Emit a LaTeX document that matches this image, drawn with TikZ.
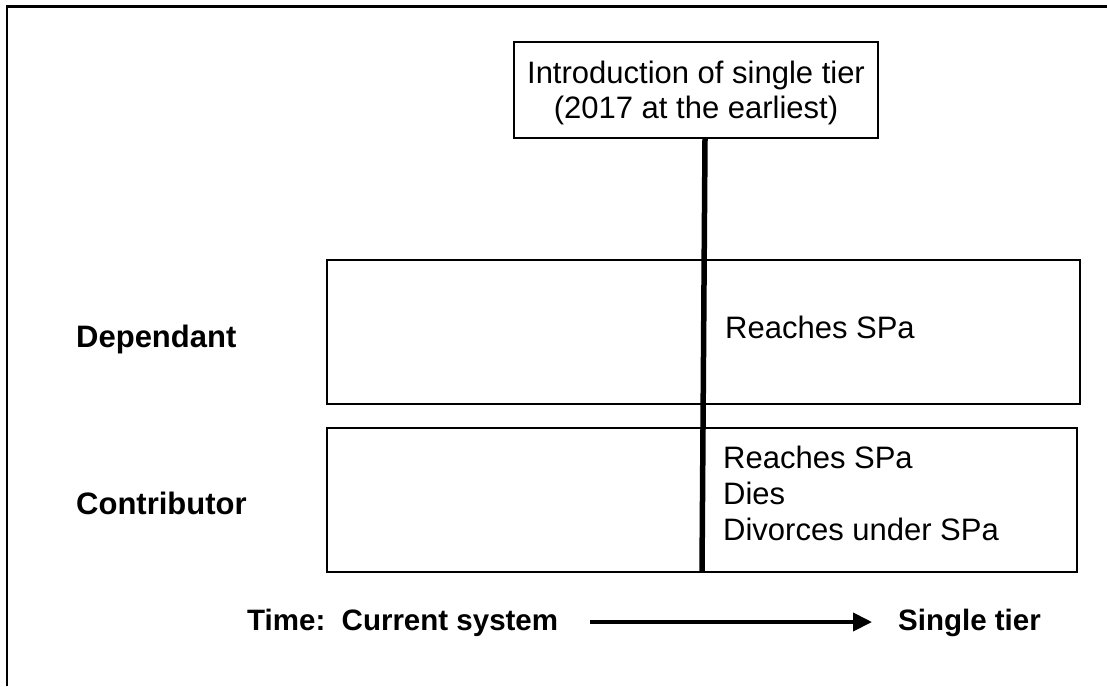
\documentclass[tikz,border=0pt]{standalone}
\usepackage{fontspec}
\setmainfont{Liberation Sans}
\usetikzlibrary{arrows.meta}
\tikzset{
  boxstyle/.style={draw=black, line width=1.8pt, inner sep=0pt},
  txt/.style={inner sep=0pt, font=\fontsize{31}{36}\selectfont},
  lbl/.style={inner sep=0pt, font=\fontsize{31}{36}\selectfont\bfseries},
  timelbl/.style={inner sep=0pt, font=\fontsize{29.5}{34}\selectfont\bfseries},
}
\begin{document}
\begin{tikzpicture}[x=1pt,y=-1pt]
\useasboundingbox (0,0) rectangle (1107,686);
% frame (left and top only)
\draw[line width=2.2pt] (7,686) -- (7,6.5) -- (1107,6.5);
% top box
\node[boxstyle, minimum width=364pt, minimum height=96pt] (intro) at (696,90) {};
\node[txt, anchor=base] (intro1) at (696,83) {Introduction of single tier};
\node[txt, anchor=base] (intro2) at (696,118) {(2017 at the earliest)};
% row boxes
\node[boxstyle, minimum width=753pt, minimum height=144pt] (dep) at (703.5,332) {};
\node[boxstyle, minimum width=750pt, minimum height=144pt] (con) at (702,500) {};
% vertical divider
\coordinate (v1) at (705,139);
\coordinate (v2) at (702,572);
\draw[line width=5.5pt] (v1) -- (v2);
% row labels
\node[lbl, anchor=base west] (deplbl) at (76,347) {Dependant};
\node[lbl, anchor=base west] (conlbl) at (76,514) {Contributor};
% box texts
\node[txt, anchor=base west] (dept) at (725,338) {Reaches SPa};
\node[txt, anchor=base west] (con1) at (723,468) {Reaches SPa};
\node[txt, anchor=base west] (con2) at (723,504) {Dies};
\node[txt, anchor=base west] (con3) at (723,540) {Divorces under SPa};
% time axis
\node[timelbl, anchor=base west] (time) at (247,630) {Time:\ \ Current system};
\node[timelbl, anchor=base west] (single) at (898,630) {Single tier};
\coordinate (a1) at (590,622);
\coordinate (a2) at (872,622);
\draw[line width=4pt, -{Triangle[length=19pt,width=18pt]}] (a1) -- (a2);
\end{tikzpicture}
\end{document}
